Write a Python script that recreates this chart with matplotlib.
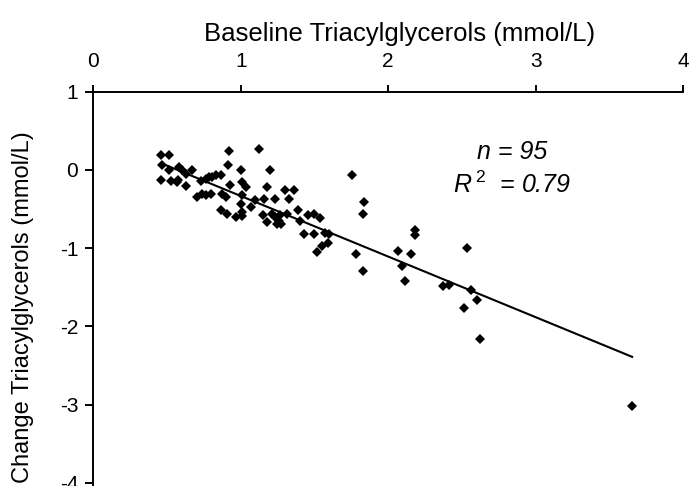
import matplotlib
matplotlib.use("Agg")
import matplotlib.pyplot as plt
import numpy as np

# Baseline TG (mmol/L) vs change in TG (mmol/L)
baseline_tg = [
    0.457, 0.514, 0.468, 0.457, 0.514, 0.525, 0.570, 0.581, 0.603, 0.626,
    0.667, 0.626, 0.576, 0.705, 0.739, 0.728, 0.761, 0.784, 0.806, 0.829,
    0.863, 0.761, 0.795, 0.874, 0.897, 0.867, 0.907, 0.919, 0.914, 0.924,
    0.964, 0.998, 1.005, 1.032, 1.009, 0.998, 1.005, 1.009, 1.066, 1.122,
    1.099, 1.155, 1.149, 1.178, 1.201, 1.178, 1.211, 1.234, 1.234, 1.245,
    1.257, 1.268, 1.302, 1.324, 1.358, 1.313, 1.387, 1.403, 1.426, 1.459,
    1.493, 1.493, 1.516, 1.270, 1.539, 1.572, 1.599, 1.554, 1.590, 1.752,
    1.838, 1.826, 1.779, 1.831, 2.180, 2.180, 2.068, 2.153, 2.095, 2.117,
    2.372, 2.410, 2.536, 2.559, 2.603, 2.514, 2.620, 3.655,
]
change_tg = [
    0.183, 0.183, 0.055, -0.128, -0.009, -0.137, -0.158, 0.033, -0.009, -0.051,
    0.000, -0.213, -0.128, -0.350, -0.307, -0.137, -0.115, -0.086, -0.095, -0.073,
    -0.073, -0.328, -0.307, -0.307, -0.350, -0.511, -0.571, 0.246, 0.055, -0.200,
    -0.605, -0.009, -0.158, -0.222, -0.328, -0.434, -0.542, -0.596, -0.478, 0.268,
    -0.392, -0.370, -0.584, -0.222, 0.000, -0.669, -0.562, -0.605, -0.370, -0.690,
    -0.648, -0.584, -0.255, -0.370, -0.264, -0.562, -0.520, -0.648, -0.826, -0.584,
    -0.562, -0.826, -1.052, -0.699, -0.613, -0.810, -0.826, -0.980, -0.937, -0.073,
    -0.414, -0.562, -1.082, -1.295, -0.775, -0.839, -1.040, -1.073, -1.235, -1.423,
    -1.487, -1.478, -0.996, -1.533, -1.660, -1.762, -2.158, -3.023,
]

# regression line as drawn in the figure
fit_intercept = 0.439
fit_slope = -0.774

x_ticks = [0, 1, 2, 3, 4]
y_ticks = [1, 0, -1, -2, -3, -4]

plt.rcParams["font.family"] = ["Liberation Sans", "DejaVu Sans"]
plt.rcParams["mathtext.fontset"] = "custom"
plt.rcParams["mathtext.rm"] = "Liberation Sans"
plt.rcParams["mathtext.it"] = "Liberation Sans:italic"

fig = plt.figure(figsize=(6.96, 4.86), dpi=100)
ax = fig.add_axes([0.1343, 0.0, 0.8470, 0.8117])

x = np.array(baseline_tg)
y = np.array(change_tg)
ax.plot(x, y, linestyle="none", marker="D", markersize=4.6,
        color="black", markeredgewidth=0, zorder=3)

line_x = np.array([x.min(), x.max()])
ax.plot(line_x, fit_intercept + fit_slope * line_x, color="black", lw=1.5, zorder=2)

ax.set_xlim(0, 4)
ax.set_ylim(-4.04, 1)
ax.set_xticks(x_ticks)
ax.set_yticks(y_ticks)
ax.set_yticklabels([str(t) for t in y_ticks])

ax.xaxis.tick_top()
ax.spines["bottom"].set_visible(False)
ax.spines["right"].set_visible(False)
for side in ("top", "left"):
    ax.spines[side].set_linewidth(1.4)
ax.tick_params(axis="x", direction="out", length=5, width=1.4, pad=10, labelsize=15)
ax.tick_params(axis="y", direction="out", length=6, width=1.4, pad=5, labelsize=15)

fig.text(400 / 696, 1 - 34 / 486, "Baseline Triacylglycerols (mmol/L)",
         ha="center", va="center", fontsize=18.5)
fig.text(23 / 696, 1 - 307 / 486, "Change Triacylglycerols (mmol/L)",
         ha="center", va="center", rotation=90, fontsize=17)

ax.text(512 / 696, 1 - 152 / 486, "n = 95", transform=fig.transFigure,
        ha="center", va="center", fontsize=18, style="italic")
ax.text(512 / 696, 1 - 185 / 486, r"$R^{\,2}$  = 0.79", transform=fig.transFigure,
        ha="center", va="center", fontsize=18, style="italic")

fig.savefig("out.png", dpi=100)
